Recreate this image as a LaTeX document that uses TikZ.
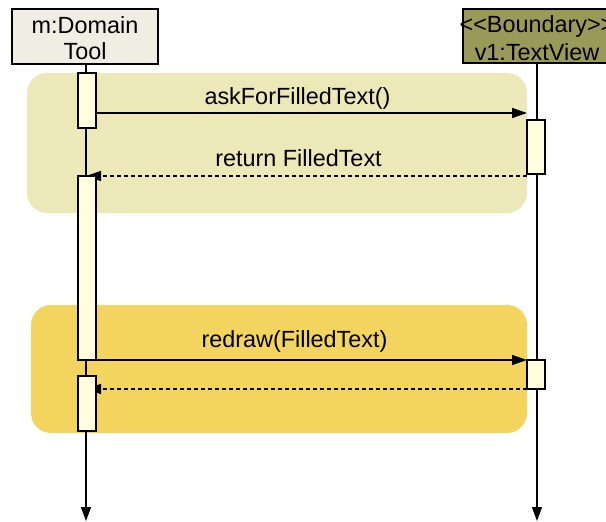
\documentclass[tikz,border=0pt]{standalone}
\usepackage{fontspec}
\setmainfont{Liberation Sans}
\usetikzlibrary{arrows.meta}
\definecolor{hdrL}{HTML}{F0EDE2}
\definecolor{hdrR}{HTML}{9A9A58}
\definecolor{regA}{HTML}{EDE8B7}
\definecolor{regB}{HTML}{F2D45E}
\definecolor{actF}{HTML}{FFFFE0}
\tikzset{
  header/.style={draw=black, line width=1.5pt, minimum width=146pt, minimum height=55pt, inner sep=0pt},
  hdrtext/.style={anchor=base, inner sep=0pt, font=\fontsize{23.4}{26}\selectfont},
  lbl/.style={anchor=base, inner sep=0pt, font=\fontsize{23.4}{26}\selectfont},
  act/.style={draw=black, line width=1.5pt, fill=actF, minimum width=18pt, inner sep=0pt},
  region/.style={rounded corners=20pt, draw=none},
  lifeline/.style={line width=1.4pt, -{Triangle[length=14pt,width=10pt]}},
  msg/.style={line width=1.4pt, -{Triangle[length=15pt,width=10pt]}},
  ret/.style={line width=1.4pt, dash pattern=on 4pt off 3pt, -{Triangle[length=15pt,width=10pt]}}
}
\begin{document}
\begin{tikzpicture}[x=1pt,y=-1pt]
\useasboundingbox (0,0) rectangle (606,522);
\clip (0,0) rectangle (606,522);
% regions
\path[region, fill=regA] (27,73) rectangle (527,213);
\path[region, fill=regB] (31,305) rectangle (527,433);
% headers
\node[header, fill=hdrL] (hL) at (85,36.5) {};
\node[header, fill=hdrR, minimum width=148pt, minimum height=54pt] (hR) at (537,36) {};
\coordinate (endL) at (86,521);
\coordinate (endR) at (537,521);
\draw[lifeline] (hL.south -| endL) -- (endL);
\draw[lifeline] (hR.south -| endR) -- (endR);
% activation boxes (positions)
\path (87,100.5) node[act, minimum height=55pt] (aL1) {};
\path (87,268) node[act, minimum height=184pt] (aL2) {};
\path (87,403.5) node[act, minimum height=55pt] (aL3) {};
\path (536,147) node[act, minimum height=54pt] (aR1) {};
\path (536,374.5) node[act, minimum height=29pt] (aR2) {};
% messages
\coordinate (m1s) at (96,113);
\coordinate (m1e) at (527,113);
\coordinate (r1s) at (527,176);
\coordinate (r1e) at (86,176);
\coordinate (m2s) at (96,360);
\coordinate (m2e) at (527,360);
\coordinate (r2s) at (527,389);
\coordinate (r2e) at (86,389);
\draw[msg] (m1s) -- (m1e);
\draw[ret] (r1s) -- (r1e);
\draw[msg] (m2s) -- (m2e);
\draw[ret] (r2s) -- (r2e);
% redraw activation boxes on top
\node[act, minimum height=55pt] at (aL1) {};
\node[act, minimum height=184pt] at (aL2) {};
\node[act, minimum height=55pt] at (aL3) {};
\node[act, minimum height=54pt] at (aR1) {};
\node[act, minimum height=29pt] at (aR2) {};
% labels
\node[lbl] (l1) at (297.5,104) {askForFilledText()};
\node[lbl] (l2) at (298.5,166) {return FilledText};
\node[lbl] (l3) at (294.5,347) {redraw(FilledText)};
% header texts
\node[hdrtext] (tL1) at (85,33) {m:Domain};
\node[hdrtext] (tL2) at (85,59) {Tool};
\node[hdrtext] (tR1) at (537,32) {<\kern0pt<Boundary>\kern0pt>};
\node[hdrtext] (tR2) at (537,60) {v1:TextView};
\end{tikzpicture}
\end{document}
